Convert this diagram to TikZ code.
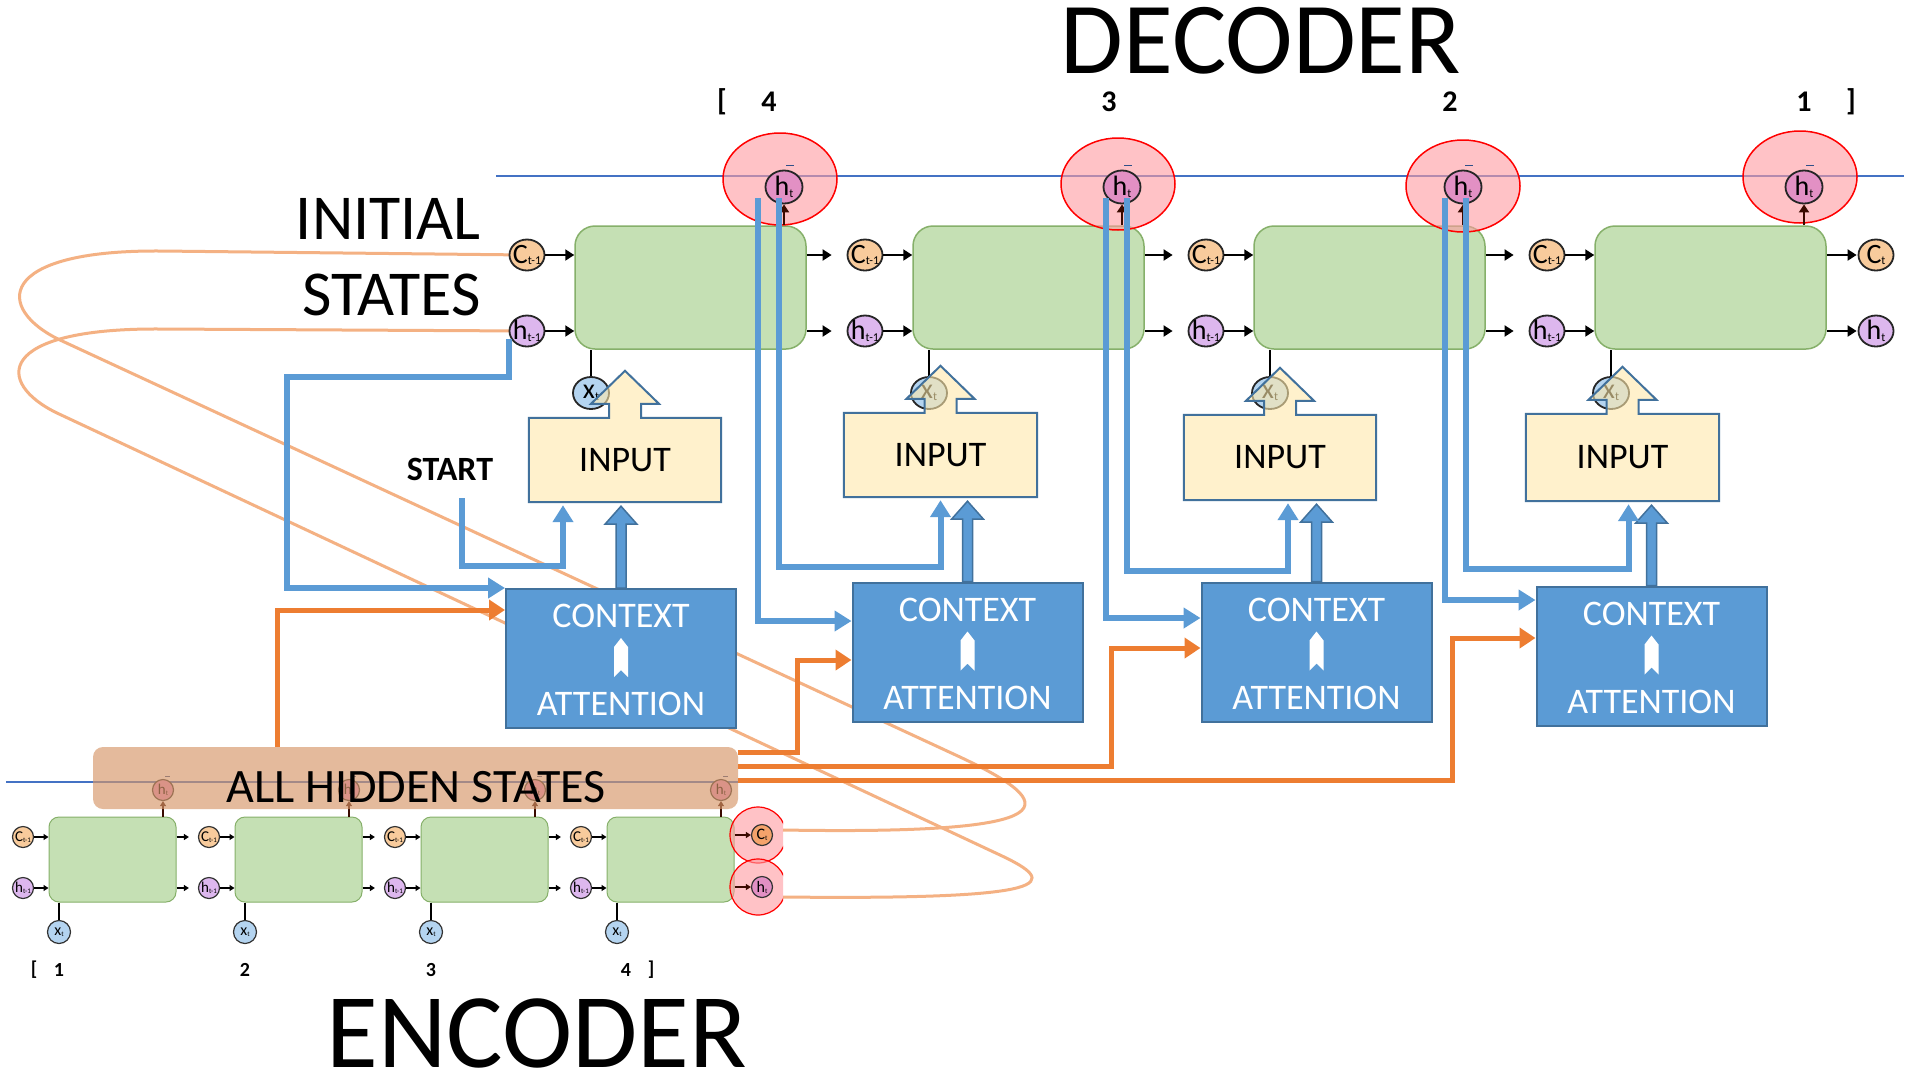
\documentclass[tikz,border=0pt]{standalone}
\usepackage{fontspec}
\setmainfont{Carlito}
\usetikzlibrary{arrows.meta,shapes.geometric,calc}
\definecolor{cgreen}{HTML}{C5E0B4}
\definecolor{cgreenD}{HTML}{86B06A}
\definecolor{corgC}{HTML}{F8CB9C}
\definecolor{cpurp}{HTML}{DDB7EE}
\definecolor{cpink}{HTML}{E290C4}
\definecolor{cxblue}{HTML}{B4D4F0}
\definecolor{cinfill}{HTML}{FFE9AA}
\definecolor{cinD}{HTML}{41719C}
\definecolor{cblue}{HTML}{5B9BD5}
\definecolor{cthin}{HTML}{4472C4}
\definecolor{corange}{HTML}{ED7D31}
\definecolor{ccurve}{HTML}{F4B183}
\definecolor{ctan}{HTML}{D79667}
\definecolor{credf}{HTML}{FF9AA0}
\definecolor{cCt}{HTML}{F4A36B}
\definecolor{cdark}{HTML}{3A0A00}
\newcommand\myfs[1]{\fontsize{#1}{#1}\selectfont}
\newcommand\sublab[4]{\makebox[0pt]{{\myfs{#3}#1}{\myfs{#4}\raisebox{-0.15em}{#2}}}}
\pgfdeclarelayer{bg}
\pgfsetlayers{bg,main}
\tikzset{
  txt/.style={inner sep=0pt},
  gbox/.style={draw=cgreenD, line width=1.5pt, fill=cgreen, rounded corners=20pt, minimum width=231pt, minimum height=123pt, inner sep=0pt},
  egbox/.style={draw=cgreenD, line width=1pt, fill=cgreen, rounded corners=10pt, minimum width=127pt, minimum height=85pt, inner sep=0pt},
  circ/.style={ellipse, draw=black!85, line width=1.8pt, inner sep=0pt, minimum width=35pt, minimum height=31pt},
  cnode/.style={circ, fill=corgC},
  hnode/.style={circ, fill=cpurp},
  tnode/.style={circ, fill=cpink, minimum width=37pt, minimum height=33pt},
  xnode/.style={circ, fill=cxblue, minimum width=36pt, minimum height=32pt},
  ecirc/.style={circle, draw=black!80, line width=1.2pt, inner sep=0pt, minimum size=21pt},
  redell/.style={ellipse, draw=red, line width=1.5pt, fill=credf, fill opacity=0.6, minimum width=114pt, minimum height=92pt},
  inshape/.style={fill=cinfill, fill opacity=0.6, draw=cinD, line width=2pt},
  ctxbox/.style={fill=cblue, draw=cinD, line width=2pt, minimum width=230pt, minimum height=139pt, inner sep=0pt},
  ctxtext/.style={txt, text=white, font=\myfs{36}},
  blockar/.style={fill=cblue, draw=cinD, line width=1.5pt},
  bconn/.style={draw=cblue, line width=6pt, -{Triangle[length=17pt,width=20pt]}},
  oconn/.style={draw=corange, line width=5pt, -{Triangle[length=16pt,width=20pt]}},
  curveline/.style={draw=ccurve, line width=3pt},
  thinline/.style={draw=cthin, line width=2.5pt},
  blk/.style={draw=black, line width=2pt, -{Triangle[length=9pt,width=11pt]}},
  eblk/.style={draw=black, line width=1.2pt, -{Triangle[length=5pt,width=6pt]}},
  dkarr/.style={draw=cdark, line width=2pt, -{Triangle[length=8pt,width=10pt]}},
  edark/.style={draw=cdark, line width=1.2pt, -{Triangle[length=5pt,width=6pt]}},
  ahsbox/.style={fill=ctan, fill opacity=0.65, draw=none, rounded corners=10pt, minimum width=645pt, minimum height=62pt, inner sep=0pt},
}
\begin{document}
\begin{tikzpicture}[x=1pt,y=-1pt]
\useasboundingbox (0,0) rectangle (1920,1080);
\begin{pgfonlayer}{bg}
\fill[white] (0,0) rectangle (1920,1080);
\end{pgfonlayer}

% thin state lines
\draw[thinline] (6,782) -- (738,782);
\draw[thinline] (496,176) -- (1904,176);

% ---------------- ENCODER ----------------
\foreach \i/\lx in {1/49,2/235,3/421,4/607}{
  \node[egbox] (ec\i) at (\lx+63.5,859.5) {};
  \node[ecirc,fill=corgC] (eC\i) at (\lx-26,837) {\sublab{C}{t-1}{15}{7}};
  \node[ecirc,fill=cpurp] (eH\i) at (\lx-26,888) {\sublab{h}{t-1}{15}{7}};
  \node[ecirc,fill=cxblue,minimum size=23pt] (eX\i) at (\lx+10,932) {\sublab{x}{t}{16}{7}};
  \draw[eblk] (eC\i) -- (eC\i -| ec\i.west);
  \draw[eblk] (eH\i) -- (eH\i -| ec\i.west);
  \draw[line width=1.2pt] (eX\i) -- (eX\i |- ec\i.south);
  \node[ecirc,fill=cpink] (eT\i) at (\lx+114,790) {\sublab{h}{t}{15}{7}};
  \draw[edark] (eT\i |- ec\i.north) -- (eT\i);
  \draw[cthin!70!black, line width=0.8pt] ([xshift=2pt,yshift=3pt]eT\i.north) -- ++(5pt,0pt);
}
\foreach \i/\j in {1/2,2/3,3/4}{
  \draw[eblk,shorten >=9pt] (ec\i.east |- eC\j) -- (eC\j);
  \draw[eblk,shorten >=9pt] (ec\i.east |- eH\j) -- (eH\j);
}
\begin{scope}
  \clip (700,780) rectangle (783,930);
  \node[circle, draw=red, line width=1.2pt, fill=credf, fill opacity=0.6, minimum size=56pt] (eR1) at (758,835) {};
  \node[circle, draw=red, line width=1.2pt, fill=credf, fill opacity=0.6, minimum size=56pt] (eR2) at (758,887) {};
\end{scope}
\node[ecirc,fill=cCt] (eCf) at (762,835) {\sublab{C}{t}{16}{7}};
\node[ecirc,fill=cpink] (eHf) at (762,887) {\sublab{h}{t}{16}{7}};
\draw[edark] (ec4.east |- eCf) -- (eCf);
\draw[edark] (ec4.east |- eHf) -- (eHf);
\coordinate (ce1) at (783,830);
\coordinate (ce2) at (783,897);

% all hidden states
\node[ahsbox] (ahs) at (415.5,778) {};
\node[txt,font=\myfs{48}] (ahst) at (416,787) {ALL HIDDEN STATES};

% ---------------- DECODER ----------------
\foreach \i/\lx in {1/575,2/913,3/1254,4/1595}{
  \node[gbox] (dc\i) at (\lx+115.5,287.5) {};
  \node[cnode] (dC\i) at (\lx-48,255) {\sublab{C}{t-1}{28}{12}};
  \node[hnode] (dH\i) at (\lx-48,331) {\sublab{h}{t-1}{28}{12}};
  \draw[blk] (dC\i) -- (dC\i -| dc\i.west);
  \draw[blk] (dH\i) -- (dH\i -| dc\i.west);
  \node[xnode] (dX\i) at (\lx+16,393) {\sublab{x}{t}{28}{12}};
  \draw[line width=2pt] (dX\i) -- (dX\i |- dc\i.south);
}
\node[cnode] (dC5) at (1876,255) {\sublab{C}{t}{28}{12}};
\node[hnode] (dH5) at (1876,331) {\sublab{h}{t}{28}{12}};
\foreach \i/\j/\s in {1/2/15,2/3/15,3/4/15,4/5/1}{
  \draw[blk,shorten >=\s pt] (dc\i.east |- dC\j) -- (dC\j);
  \draw[blk,shorten >=\s pt] (dc\i.east |- dH\j) -- (dH\j);
}
% red ellipses and output h_t
\foreach \i/\px/\py in {1/780/179,2/1118/184,3/1463/186,4/1800/177}{
  \node[redell] (rE\i) at (\px,\py) {};
}
\foreach \i/\lx in {1/575,2/913,3/1254,4/1595}{
  \node[tnode] (dT\i) at (\lx+209,187) {\sublab{h}{t}{28}{12}};
  \draw[dkarr] (dT\i |- dc\i.north) -- (dT\i);
  \draw[cthin!70!black, line width=1pt] ([xshift=2pt,yshift=4pt]dT\i.north) -- ++(8pt,0pt);
}

% input boxes
\foreach \i/\px/\py/\w/\h in {1/625/460/192/84, 2/940.5/455/193/84, 3/1280/457.5/192/85, 4/1622.5/457.5/193/87}{
  \node[minimum width=\w, minimum height=\h, inner sep=0pt] (in\i) at (\px,\py) {};
  \filldraw[inshape] let \p1=(in\i.north west), \p2=(in\i.south east), \p3=(in\i.north) in
    (\x1,\y2) -- (\x1,\y1) -- (\x3-16pt,\y1) -- (\x3-16pt,\y1+14pt) -- (\x3-34pt,\y1+14pt)
    -- (\x3,\y1+47pt) -- (\x3+34pt,\y1+14pt) -- (\x3+16pt,\y1+14pt) -- (\x3+16pt,\y1)
    -- (\x2,\y1) -- (\x2,\y2) -- cycle;
  \node[txt,font=\myfs{36}] (inT\i) at (in\i) {INPUT};
}

% context / attention boxes
\foreach \i/\px/\py in {1/621/658.5, 2/967.5/652, 3/1316.5/652, 4/1651.5/656}{
  \node[ctxbox] (cx\i) at (\px,\py) {};
  \node[ctxtext] (cxa\i) at ([yshift=-28pt]cx\i.north) {CONTEXT};
  \node[ctxtext] (cxb\i) at ([yshift=25pt]cx\i.south) {ATTENTION};
  \fill[white] ([yshift=-50pt]cx\i.north) -- ++(7pt,-9pt) -- ++(0pt,-30pt) -- ++(-7pt,7pt)
     -- ++(-7pt,-7pt) -- ++(0pt,30pt) -- cycle;
  \filldraw[blockar] let \p1=(cx\i.north), \p2=(in\i.south) in
    (\x1-5pt,\y1) -- (\x1-5pt,\y2-22pt) -- (\x1-16pt,\y2-22pt) -- (\x1,\y2-4pt)
    -- (\x1+16pt,\y2-22pt) -- (\x1+5pt,\y2-22pt) -- (\x1+5pt,\y1) -- cycle;
}

% ---------------- CONNECTORS ----------------
\coordinate (b0a) at (287,377);
\draw[bconn] ([yshift=-8pt]dH1.west) |- (b0a) |- (cx1.north west);

\node[txt,font=\bfseries\myfs{34}] (start) at (450,469) {START};
\coordinate (s1) at (462,498);
\coordinate (s2) at (563,566);
\draw[bconn] (s1) |- (s2) -- ([xshift=-62pt,yshift=-3pt]in1.south);

\coordinate (k1t) at (779,198);  \coordinate (k1) at (779,567);
\coordinate (k1u) at (758,198);  \coordinate (k1b) at (758,621);
\coordinate (k2t) at (1127,198); \coordinate (k2) at (1127,571);
\coordinate (k2u) at (1106,198); \coordinate (k2b) at (1106,618);
\coordinate (k3t) at (1466,198); \coordinate (k3) at (1466,569);
\coordinate (k3u) at (1445,198); \coordinate (k3b) at (1445,600);
\draw[bconn] (k1t) -- (k1) -| ([yshift=-3pt]in2.south);
\draw[bconn] (k1u) -- (k1b) -- (k1b -| cx2.west);
\draw[bconn] (k2t) -- (k2) -| ([xshift=8pt,yshift=-3pt]in3.south);
\draw[bconn] (k2u) -- (k2b) -- (k2b -| cx3.west);
\draw[bconn] (k3t) -- (k3) -| ([xshift=6pt,yshift=-3pt]in4.south);
\draw[bconn] (k3u) -- (k3b) -- (k3b -| cx4.west);

\coordinate (o1) at (277,610);
\coordinate (o2a) at (797,752);  \coordinate (o2b) at (797,660);
\coordinate (o3a) at (1111,766); \coordinate (o3b) at (1111,648);
\coordinate (o4a) at (1452,780); \coordinate (o4b) at (1452,638);
\draw[oconn] (ahs.north -| o1) -- (o1) -- (o1 -| cx1.west);
\draw[oconn] (ahs.east |- o2a) -- (o2a) -- (o2b) -- (o2b -| cx2.west);
\draw[oconn] (ahs.east |- o3a) -- (o3a) -- (o3b) -- (o3b -| cx3.west);
\draw[oconn] (ahs.east |- o4a) -- (o4a) -- (o4b) -- (o4b -| cx4.west);

% initial-state curves (background)
\begin{pgfonlayer}{bg}
\draw[curveline] (dC1.center) -- (160,251) .. controls (-5,250) and (-5,309) .. (60,340)
   -- (960,757) .. controls (1060,804) and (1075,835) .. (ce1);
\draw[curveline] (dH1.center) -- (160,329) .. controls (-5,328) and (-5,383) .. (57,413)
   -- (1000,855) .. controls (1060,883) and (1060,900) .. (ce2);
\end{pgfonlayer}

% ---------------- TEXTS ----------------
\node[txt,font=\myfs{102}] (dec) at (1261,41) {DECODER};
\node[txt,font=\myfs{106}] (enc) at (537,1033) {ENCODER};
\node[txt,font=\myfs{64},anchor=east] (init) at (481,219) {INITIAL};
\node[txt,font=\myfs{64},anchor=east] (stat) at (481,295) {STATES};
\foreach \t/\px [count=\n] in {[/722,4/769,3/1109,2/1450,1/1804,]/1851}{
  \node[txt,font=\bfseries\myfs{30}] (dn\n) at (\px,102) {\t};
}
\foreach \t/\px [count=\n] in {[/34,1/59,2/245,3/431,4/626,]/651}{
  \node[txt,font=\bfseries\myfs{20}] (en\n) at (\px,970) {\t};
}
\end{tikzpicture}
\end{document}
